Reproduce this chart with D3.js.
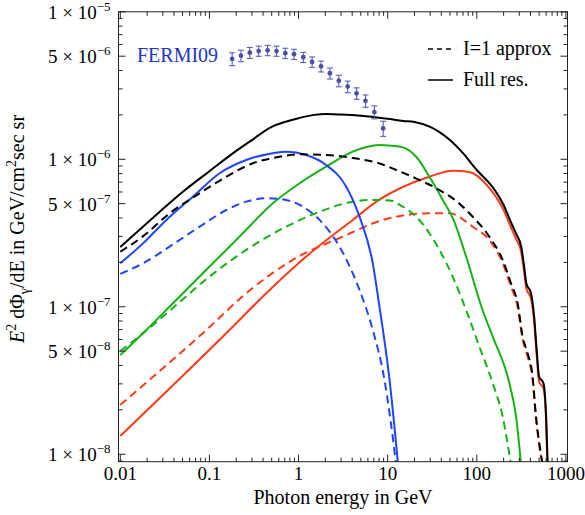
<!DOCTYPE html>
<html>
<head>
<meta charset="utf-8">
<script src="https://cdn.jsdelivr.net/npm/d3@7"></script>
<style>
  body { margin: 0; background: #fff; }
  text { font-family: "Liberation Serif", "Times New Roman", serif; fill: #000; }
</style>
</head>
<body>
<svg id="chart" width="585" height="515"></svg>
<script>
// ---- data: [photon energy GeV, E^2 dPhi/dE] ----
const blackFull = [[0.01,2.54e-7],[0.02,3.7e-7],[0.03,4.6e-7],[0.05,6.0e-7],[0.1,8.3e-7],[0.2,1.14e-6],
  [0.3,1.35e-6],[0.5,1.66e-6],[0.7,1.79e-6],[1,1.9e-6],[1.5,2.0e-6],[2,2.03e-6],[3,2.01e-6],[5,1.97e-6],
  [10,1.88e-6],[15,1.82e-6],[20,1.79e-6],[30,1.66e-6],[50,1.35e-6],[70,1.1e-6],[100,8.46e-7],[150,6.49e-7],
  [200,4.9e-7],[240,3.78e-7],[275,3.15e-7],[315,2.56e-7],[340,1.87e-7],[360,1.44e-7],[405,1.24e-7],
  [440,8.6e-8],[470,5.1e-8],[500,3.36e-8],[560,3.03e-8],[600,1.8e-8],[625,8.5e-9]];
const blackApprox = [[0.01,2.36e-7],[0.0178,2.99e-7],[0.0358,4.3e-7],[0.0776,5.88e-7],[0.155,7.62e-7],
  [0.307,9.4e-7],[0.612,1.04e-6],[1.03,1.08e-6],[2.04,1.07e-6],[4.06,1.02e-6],[7.98,9.4e-7],[12.5,8.46e-7],
  [22.7,7.24e-7],[38,6.19e-7],[58.6,5.22e-7],[90,4.08e-7],[138,2.99e-7],[195,2.08e-7],[242,1.44e-7],
  [287,1.06e-7],[327,6.27e-8],[372,4.84e-8],[423,3.36e-8],[462,1.8e-8],[503,1.19e-8],[548,8.5e-9]];
const blueFull = [[0.01,1.97e-7],[0.018,2.69e-7],[0.0329,3.88e-7],[0.0653,5.58e-7],[0.13,8.04e-7],
  [0.259,9.89e-7],[0.515,1.1e-6],[0.728,1.126e-6],[1.22,1.07e-6],[2.04,9.15e-7],[3.43,6.52e-7],
  [4.83,4.08e-7],[6.81,1.97e-7],[7.98,1.06e-7],[10.5,3.19e-8],[13.1,8.5e-9]];
const blueApprox = [[0.01,1.67e-7],[0.018,1.97e-7],[0.0358,2.56e-7],[0.0776,3.49e-7],[0.155,4.53e-7],
  [0.259,5.16e-7],[0.434,5.44e-7],[0.612,5.38e-7],[1.03,4.9e-7],[1.72,3.88e-7],[2.88,2.56e-7],
  [4.83,1.3e-7],[6.81,6.96e-8],[9.21,3.19e-8],[10.75,1.71e-8],[12.45,8.5e-9]];
const greenFull = [[0.01,4.7e-8],[0.0196,6.96e-8],[0.039,1.056e-7],[0.0923,1.78e-7],[0.218,2.99e-7],
  [0.515,5.03e-7],[1.03,6.88e-7],[2.04,8.91e-7],[4.06,1.126e-6],[7.98,1.25e-6],[13.6,1.22e-6],
  [20.9,1.04e-6],[29.4,7.62e-7],[41.5,5.3e-7],[53.7,4.0e-7],[75.9,2.19e-7],[116,9.5e-8],[151,6.27e-8],
  [232,3.03e-8],[276,1.8e-8],[314,8.5e-9]];
const greenApprox = [[0.01,5.0e-8],[0.0196,6.9e-8],[0.0426,1.03e-7],[0.1,1.6e-7],[0.259,2.43e-7],
  [0.728,3.49e-7],[1.72,4.41e-7],[4.06,5.16e-7],[6.58,5.3e-7],[10.5,5.26e-7],[14.8,4.77e-7],
  [20.9,4.08e-7],[38.1,2.43e-7],[53.7,1.6e-7],[75.9,9.5e-8],[107,5.36e-8],[151,3.03e-8],[195,1.8e-8],
  [242,8.5e-9]];
const redFull = [[0.01,1.33e-8],[0.168,6.96e-8],[0.434,1.235e-7],[1.22,2.19e-7],[4.06,3.88e-7],
  [7.98,5.3e-7],[29.4,7.62e-7],[53.7,8.37e-7],[82.6,8.2e-7],[138,6.4e-7],[194,4.7e-7],[240,3.5e-7],
  [275,2.9e-7],[315,2.35e-7],[340,1.72e-7],[360,1.33e-7],[405,1.14e-7],[440,7.9e-8],[470,4.7e-8],
  [500,3.1e-8],[560,2.8e-8],[600,1.65e-8],[620,8.5e-9]];
const redApprox = [[0.01,2.16e-8],[0.0923,6.96e-8],[0.259,1.235e-7],[0.863,2.08e-7],[3.14,2.99e-7],
  [8.52,3.85e-7],[29.4,4.3e-7],[49.3,4.3e-7],[90,3.49e-7],[138,2.84e-7],[195,1.98e-7],[242,1.37e-7],
  [287,1.0e-7],[327,6.0e-8],[372,4.6e-8],[423,3.2e-8],[462,1.72e-8],[503,1.14e-8],[545,8.5e-9]];

// FERMI09 points
const fermiE = [0.18,0.226,0.284,0.357,0.45,0.566,0.71,0.89,1.13,1.42,1.79,2.25,2.83,3.56,4.48,5.64,7.1,8.9];
const fermiFlux = [4.79e-6,5.04e-6,5.28e-6,5.42e-6,5.48e-6,5.42e-6,5.24e-6,5.16e-6,4.92e-6,4.57e-6,
  4.27e-6,3.83e-6,3.41e-6,3.11e-6,2.80e-6,2.49e-6,2.09e-6,1.62e-6];
const fermiErr = [0.48e-6,0.45e-6,0.45e-6,0.43e-6,0.44e-6,0.43e-6,0.42e-6,0.41e-6,0.39e-6,0.37e-6,
  0.36e-6,0.33e-6,0.31e-6,0.28e-6,0.25e-6,0.24e-6,0.21e-6,0.19e-6];

// ticks
const xTicks = [0.01, 0.1, 1, 10, 100, 1000];
const xTickLabels = ['0.01', '0.1', '1', '10', '100', '1000'];
const yTicks = [1e-8, 5e-8, 1e-7, 5e-7, 1e-6, 5e-6, 1e-5];
const yTickMant = ['1', '5', '1', '5', '1', '5', '1'];
const yTickExp = ['\u22128', '\u22128', '\u22127', '\u22127', '\u22126', '\u22126', '\u22125'];

const blue = '#1f44ff', green = '#14b214', red = '#ff3a14';
const series = [
  { data: redApprox, color: red, dash: '8,5' },
  { data: redFull, color: red, dash: null },
  { data: greenApprox, color: green, dash: '8,5' },
  { data: greenFull, color: green, dash: null },
  { data: blueApprox, color: blue, dash: '8,5' },
  { data: blueFull, color: blue, dash: null },
  { data: blackApprox, color: '#000', dash: '8,5' },
  { data: blackFull, color: '#000', dash: null }
];

const frame = { left: 118.5, right: 567.5, top: 11.8, bottom: 461.7 };

const svg = d3.select('#chart');

const x = d3.scaleLog().domain([0.00955, 1042]).range([frame.left, frame.right]);
const y = d3.scaleLog().domain([8.9e-9, 1e-5]).range([frame.bottom, frame.top]);

svg.append('defs').append('clipPath').attr('id', 'plotclip')
  .append('rect')
  .attr('x', frame.left).attr('y', frame.top)
  .attr('width', frame.right - frame.left).attr('height', frame.bottom - frame.top);

// Curves
const line = d3.line()
  .x(d => x(d[0]))
  .y(d => y(d[1]))
  .curve(d3.curveMonotoneX);

const curves = svg.append('g').attr('clip-path', 'url(#plotclip)');
series.forEach(s => {
  curves.append('path')
    .attr('d', line(s.data))
    .attr('fill', 'none')
    .attr('stroke', s.color)
    .attr('stroke-width', 2)
    .attr('stroke-dasharray', s.dash)
    .attr('stroke-linejoin', 'round');
});

// FERMI points with error bars
const fermi = svg.append('g');
const pts = fermiE.map((e, i) => ({ e, f: fermiFlux[i], err: fermiErr[i] }));
fermi.selectAll('.ebar').data(pts).enter().append('line')
  .attr('x1', d => x(d.e)).attr('x2', d => x(d.e))
  .attr('y1', d => y(d.f - d.err)).attr('y2', d => y(d.f + d.err))
  .attr('stroke', '#5a5fb2').attr('stroke-width', 1.1);
[1, -1].forEach(sgn => {
  fermi.selectAll('.cap' + sgn).data(pts).enter().append('line')
    .attr('x1', d => x(d.e) - 3).attr('x2', d => x(d.e) + 3)
    .attr('y1', d => y(d.f + sgn * d.err)).attr('y2', d => y(d.f + sgn * d.err))
    .attr('stroke', '#5a5fb2').attr('stroke-width', 1.1);
});
fermi.selectAll('circle').data(pts).enter().append('circle')
  .attr('cx', d => x(d.e)).attr('cy', d => y(d.f))
  .attr('r', 2.4).attr('fill', '#4a50a8');

// Frame
svg.append('rect')
  .attr('x', frame.left).attr('y', frame.top)
  .attr('width', frame.right - frame.left).attr('height', frame.bottom - frame.top)
  .attr('fill', 'none').attr('stroke', '#222').attr('stroke-width', 1);

// minor tick values
const xMinor = [], yMinor = [];
for (let e = -3; e <= 3; e++) for (let m = 2; m <= 9; m++) {
  const v = m * Math.pow(10, e);
  if (v > 0.00955 && v < 1042) xMinor.push(v);
}
for (let e = -9; e <= -6; e++) for (let m = 2; m <= 9; m++) {
  const v = m * Math.pow(10, e);
  if (m !== 5 && v > 8.9e-9 && v < 1e-5) yMinor.push(v);
}

const ticks = svg.append('g').attr('stroke', '#222').attr('stroke-width', 1);
const xt = xTicks.map(v => ({ v, len: 7 })).concat(xMinor.map(v => ({ v, len: 4 })));
xt.forEach(t => {
  const px = x(t.v);
  ticks.append('line').attr('x1', px).attr('x2', px).attr('y1', frame.bottom).attr('y2', frame.bottom - t.len);
  ticks.append('line').attr('x1', px).attr('x2', px).attr('y1', frame.top).attr('y2', frame.top + t.len);
});
const yt = yTicks.map(v => ({ v, len: 7 })).concat(yMinor.map(v => ({ v, len: 4 })));
yt.forEach(t => {
  const py = y(t.v);
  ticks.append('line').attr('x1', frame.left).attr('x2', frame.left + t.len).attr('y1', py).attr('y2', py);
  ticks.append('line').attr('x1', frame.right).attr('x2', frame.right - t.len).attr('y1', py).attr('y2', py);
});

// Tick labels
svg.selectAll('.xlab').data(xTicks).enter().append('text')
  .attr('x', d => x(d)).attr('y', frame.bottom + 18.5)
  .attr('text-anchor', 'middle').attr('font-size', 19)
  .text((d, i) => xTickLabels[i]);

yTicks.forEach((v, i) => {
  const t = svg.append('text')
    .attr('x', frame.left - 8).attr('y', y(v) + 7)
    .attr('text-anchor', 'end').attr('font-size', 19);
  t.append('tspan').text(yTickMant[i] + ' \u00d7 10');
  t.append('tspan').attr('font-size', 13).attr('dy', -8).text(yTickExp[i]);
});

// Axis titles
svg.append('text')
  .attr('x', (frame.left + frame.right) / 2).attr('y', 504)
  .attr('text-anchor', 'middle').attr('font-size', 20)
  .text('Photon energy in GeV');

const yt2 = svg.append('text')
  .attr('transform', 'translate(24,229) rotate(-90)')
  .attr('text-anchor', 'middle').attr('font-size', 20);
yt2.append('tspan').attr('font-style', 'italic').text('E');
yt2.append('tspan').attr('font-size', 14).attr('dy', -8).text('2');
yt2.append('tspan').attr('dy', 8).text(' d\u03a6');
yt2.append('tspan').attr('font-size', 14).attr('dy', 5).text('\u03b3');
yt2.append('tspan').attr('dy', -5).text('/dE in GeV/cm');
yt2.append('tspan').attr('font-size', 14).attr('dy', -8).text('2');
yt2.append('tspan').attr('dy', 8).text('sec sr');

// FERMI label
svg.append('text')
  .attr('x', 137).attr('y', 62)
  .attr('font-size', 20).style('fill', '#2136c4')
  .text('FERMI09');

// Legend
const legend = svg.append('g');
legend.append('line').attr('x1', 428).attr('x2', 453).attr('y1', 49).attr('y2', 49)
  .attr('stroke', '#000').attr('stroke-width', 1.5).attr('stroke-dasharray', '5,4');
legend.append('line').attr('x1', 428).attr('x2', 453).attr('y1', 80).attr('y2', 80)
  .attr('stroke', '#000').attr('stroke-width', 1.5);
legend.append('text').attr('x', 463).attr('y', 55).attr('font-size', 20).text('I=1 approx');
legend.append('text').attr('x', 463).attr('y', 86).attr('font-size', 20).text('Full res.');
</script>
</body>
</html>
